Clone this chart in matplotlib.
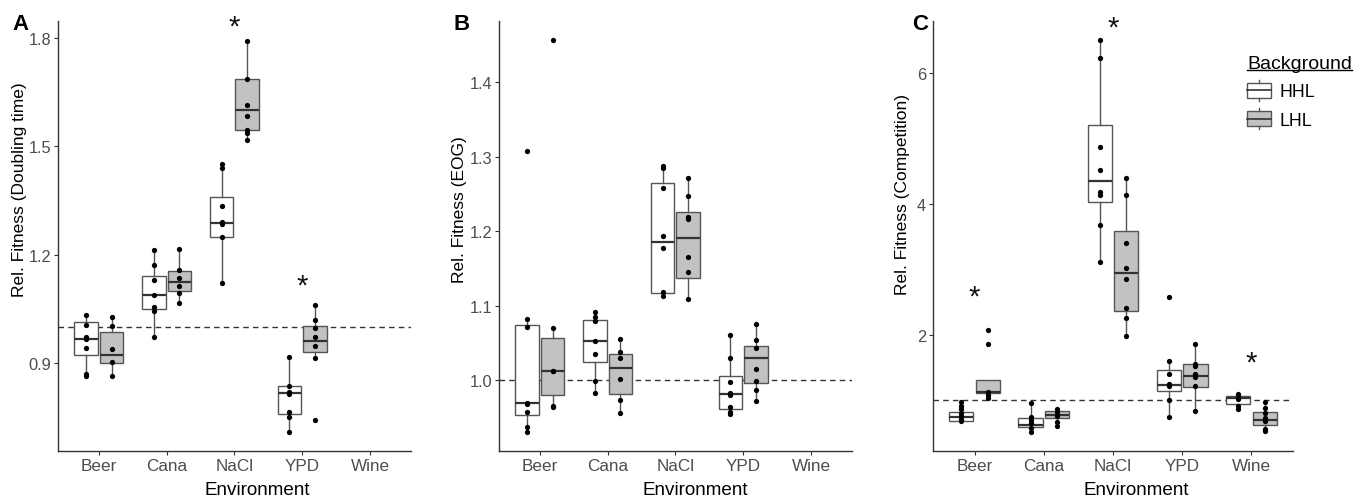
import numpy as np
import matplotlib
matplotlib.use("Agg")
import matplotlib.pyplot as plt
import matplotlib.transforms as mtransforms
from matplotlib.legend_handler import HandlerBase
from matplotlib.patches import Rectangle
from matplotlib.lines import Line2D

plt.rcParams['font.family'] = ['Liberation Sans', 'DejaVu Sans']

envs = ["Beer", "Cana", "NaCl", "YPD", "Wine"]

# box stats per environment: (whisker low, q1, median, q3, whisker high)
# panel A - doubling time
a_hhl_box = [(0.866, 0.922, 0.966, 1.013, 1.033),
             (0.972, 1.050, 1.088, 1.140, 1.212),
             (1.121, 1.248, 1.287, 1.360, 1.452),
             (0.709, 0.759, 0.817, 0.836, 0.917),
             None]
a_lhl_box = [(0.864, 0.900, 0.922, 0.986, 1.027),
             (1.066, 1.099, 1.124, 1.154, 1.215),
             (1.519, 1.544, 1.602, 1.687, 1.792),
             (0.914, 0.930, 0.961, 1.002, 1.060),
             None]
a_hhl_pts = [[1.033, 1.005, 0.972, 0.966, 0.941, 0.870, 0.864],
             [1.212, 1.173, 1.129, 1.088, 1.055, 1.044, 0.972],
             [1.452, 1.439, 1.334, 1.292, 1.284, 1.248, 1.121],
             [0.917, 0.836, 0.820, 0.814, 0.765, 0.751, 0.709],
             []]
a_lhl_pts = [[1.027, 1.002, 0.939, 0.903, 0.864],
             [1.215, 1.157, 1.135, 1.113, 1.093, 1.066],
             [1.792, 1.687, 1.615, 1.585, 1.546, 1.538, 1.519],
             [1.060, 1.019, 0.997, 0.972, 0.947, 0.914, 0.743],
             []]
a_stars = {"NaCl": 1.85, "YPD": 1.135}
a_ticks = [0.9, 1.2, 1.5, 1.8]
a_ticklabels = ["0.9", "1.2", "1.5", "1.8"]

# panel B - EOG
b_hhl_box = [(0.930, 0.953, 0.969, 1.074, 1.082),
             (0.983, 1.025, 1.052, 1.081, 1.091),
             (1.113, 1.117, 1.185, 1.264, 1.287),
             (0.954, 0.962, 0.981, 1.005, 1.060),
             None]
b_lhl_box = [(0.964, 0.980, 1.012, 1.056, 1.070),
             (0.956, 0.981, 1.016, 1.035, 1.055),
             (1.109, 1.137, 1.191, 1.226, 1.271),
             (0.972, 0.996, 1.030, 1.046, 1.075),
             None]
b_hhl_pts = [[1.307, 1.082, 1.071, 0.970, 0.968, 0.958, 0.937, 0.930],
             [1.091, 1.085, 1.079, 1.052, 1.035, 0.999, 0.983],
             [1.287, 1.285, 1.258, 1.193, 1.177, 1.118, 1.113],
             [1.060, 1.030, 0.997, 0.983, 0.980, 0.964, 0.957, 0.954],
             []]
b_lhl_pts = [[1.456, 1.070, 1.013, 1.012, 0.966, 0.964],
             [1.055, 1.038, 1.030, 1.001, 0.974, 0.956],
             [1.271, 1.247, 1.219, 1.216, 1.165, 1.145, 1.109],
             [1.075, 1.054, 1.043, 1.015, 0.999, 0.987, 0.972],
             []]
b_stars = {}
b_ticks = [1.0, 1.1, 1.2, 1.3, 1.4]
b_ticklabels = ["1.0", "1.1", "1.2", "1.3", "1.4"]

# panel C - competition
c_hhl_box = [(0.672, 0.687, 0.748, 0.824, 0.977),
             (0.519, 0.595, 0.626, 0.733, 0.962),
             (3.11, 4.03, 4.35, 5.21, 6.50),
             (0.748, 1.145, 1.237, 1.466, 1.60),
             (0.855, 0.947, 1.04, 1.069, 1.10)]
c_lhl_box = [(1.04, 1.115, 1.13, 1.313, 1.313),
             (0.61, 0.733, 0.779, 0.84, 0.87),
             (1.98, 2.37, 2.95, 3.59, 4.40),
             (0.84, 1.206, 1.374, 1.557, 1.86),
             (0.535, 0.626, 0.70, 0.824, 0.977)]
c_hhl_pts = [[0.977, 0.916, 0.87, 0.81, 0.76, 0.72, 0.687],
             [0.962, 0.748, 0.70, 0.656, 0.58, 0.519],
             [6.50, 6.23, 4.87, 4.52, 4.18, 4.14, 3.68, 3.11],
             [2.58, 1.60, 1.40, 1.25, 1.22, 1.0, 0.748],
             [1.10, 1.05, 1.02, 0.916, 0.87]]
c_lhl_pts = [[2.076, 1.863, 1.13, 1.084, 1.04],
             [0.87, 0.824, 0.763, 0.672, 0.61],
             [4.40, 4.14, 3.40, 3.02, 2.85, 2.41, 2.26, 1.98],
             [1.86, 1.557, 1.53, 1.40, 1.36, 1.22, 0.84],
             [0.977, 0.885, 0.81, 0.733, 0.687, 0.565, 0.535]]
c_stars = {"Beer": 2.69, "NaCl": 6.79, "Wine": 1.69}
c_ticks = [2, 4, 6]
c_ticklabels = ["2", "4", "6"]

EDGE = '#555555'
FILLS = {"HHL": 'white', "LHL": '#c2c2c2'}
OFF = 0.19
BW = 0.35


def draw_panel(ax, hhl_box, lhl_box, hhl_pts, lhl_pts, stars, ylim, yticks, ylabels):
    for i in range(len(envs)):
        for off, box, pts, fill in [(-OFF, hhl_box[i], hhl_pts[i], FILLS["HHL"]),
                                    (OFF, lhl_box[i], lhl_pts[i], FILLS["LHL"])]:
            if box is None:
                continue
            lo, q1, med, q3, hi = box
            st = dict(whislo=lo, q1=q1, med=med, q3=q3, whishi=hi, fliers=[])
            ax.bxp([st], positions=[i + off], widths=BW, patch_artist=True,
                   showfliers=False, showcaps=False,
                   boxprops=dict(facecolor=fill, edgecolor=EDGE, lw=1.0),
                   medianprops=dict(color='#333333', lw=1.6),
                   whiskerprops=dict(color=EDGE, lw=1.0), manage_ticks=False)
            ax.plot([i + off] * len(pts), pts, 'o', color='black', ms=3.8,
                    mec='none', zorder=5, clip_on=False)
    ax.axhline(1.0, ls=(0, (4, 3)), color='#333333', lw=1.0, zorder=1)
    # asterisk glyph sits high in its box, nudge it down a little
    shift = mtransforms.offset_copy(ax.transData, fig=ax.figure, x=0, y=-5, units='points')
    for env, y in stars.items():
        ax.text(envs.index(env), y, '*', ha='center', va='center', transform=shift,
                fontsize=21, color='#111111', clip_on=False)
    ax.set_xlim(-0.6, 4.6)
    ax.set_ylim(*ylim)
    ax.set_xticks(range(len(envs)))
    ax.set_xticklabels(envs)
    ax.set_yticks(yticks)
    ax.set_yticklabels(ylabels)
    ax.tick_params(colors='#333333', labelcolor='#4d4d4d', labelsize=12.3,
                   length=3, width=0.8, pad=2)
    ax.tick_params(axis='y', labelsize=11.8)
    for s in ['top', 'right']:
        ax.spines[s].set_visible(False)
    for s in ['left', 'bottom']:
        ax.spines[s].set_color('#333333')
        ax.spines[s].set_linewidth(1.0)


fig = plt.figure(figsize=(13.67, 5.02), dpi=100)
axA = fig.add_axes([0.0424, 0.0996, 0.2582, 0.8566])
axB = fig.add_axes([0.3650, 0.0996, 0.2582, 0.8566])
axC = fig.add_axes([0.6825, 0.0996, 0.2634, 0.8566])

draw_panel(axA, a_hhl_box, a_lhl_box, a_hhl_pts, a_lhl_pts, a_stars,
           (0.657, 1.847), a_ticks, a_ticklabels)
draw_panel(axB, b_hhl_box, b_lhl_box, b_hhl_pts, b_lhl_pts, b_stars,
           (0.905, 1.482), b_ticks, b_ticklabels)
draw_panel(axC, c_hhl_box, c_lhl_box, c_hhl_pts, c_lhl_pts, c_stars,
           (0.229, 6.79), c_ticks, c_ticklabels)

# axis titles
for x in [0.188, 0.5084, 0.831]:
    fig.text(x, 0.0139, "Environment", fontsize=13.6, ha='center', va='baseline')
for x, y, lab in [(0.0146, 0.6215, "Rel. Fitness (Doubling time)"),
                  (0.3365, 0.5817, "Rel. Fitness (EOG)"),
                  (0.6605, 0.6135, "Rel. Fitness (Competition)")]:
    fig.text(x, y, lab, fontsize=12.5, rotation=90, ha='center', va='center')

for lab, x in [("A", 0.0088), ("B", 0.3314), ("C", 0.667)]:
    fig.text(x, 0.972, lab, fontsize=16, fontweight='bold', va='top', ha='left')


class BoxKey(HandlerBase):
    def create_artists(self, legend, orig_handle, xdescent, ydescent,
                       width, height, fontsize, trans):
        fill = orig_handle.get_facecolor()
        cx = width / 2 - xdescent
        bw = width
        bh = height * 0.8
        y0 = height / 2 - ydescent - bh / 2
        rect = Rectangle((cx - bw / 2, y0), bw, bh, facecolor=fill,
                         edgecolor=EDGE, lw=1.0, transform=trans)
        med = Line2D([cx - bw / 2, cx + bw / 2], [y0 + bh / 2, y0 + bh / 2],
                     color='#333333', lw=1.2, transform=trans)
        w1 = Line2D([cx, cx], [y0 + bh, y0 + bh + height * 0.16], color=EDGE,
                    lw=1.0, transform=trans)
        w2 = Line2D([cx, cx], [y0, y0 - height * 0.16], color=EDGE, lw=1.0,
                    transform=trans)
        return [rect, med, w1, w2]


handles = [Rectangle((0, 0), 1, 1, facecolor=FILLS[k]) for k in FILLS]
leg = fig.legend(handles, list(FILLS), title='Background',
                 handler_map={Rectangle: BoxKey()}, loc='upper left',
                 bbox_to_anchor=(0.906, 0.906), frameon=False, fontsize=12.8,
                 title_fontsize=14, handlelength=1.3, handleheight=1.25,
                 handletextpad=0.5, labelspacing=0.5, borderpad=0,
                 alignment='left')

# underline the legend title
fig.canvas.draw()
bb = leg.get_title().get_window_extent().transformed(fig.transFigure.inverted())
fig.add_artist(Line2D([bb.x0, bb.x1], [bb.y0 + 0.004, bb.y0 + 0.004],
                      color='black', lw=1.0, transform=fig.transFigure))

fig.savefig("out.png", dpi=100)
